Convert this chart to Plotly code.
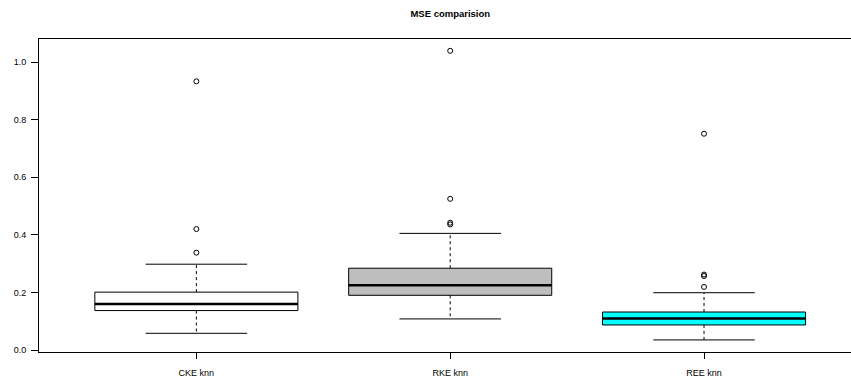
import plotly.graph_objects as go

categories = ["CKE knn", "RKE knn", "REE knn"]
positions = [1, 2, 3]
q1 = [0.137, 0.190, 0.087]
median = [0.160, 0.225, 0.109]
q3 = [0.201, 0.284, 0.132]
lower_whisker = [0.058, 0.108, 0.035]
upper_whisker = [0.298, 0.405, 0.199]
outliers = [
    [0.933, 0.420, 0.338],
    [1.039, 0.525, 0.442, 0.436],
    [0.751, 0.262, 0.257, 0.219],
]
fill_colors = ["#FFFFFF", "#BEBEBE", "#00FFFF"]
y_ticks = [0.0, 0.2, 0.4, 0.6, 0.8, 1.0]

fig = go.Figure()

for i, x in enumerate(positions):
    fig.add_trace(go.Bar(
        x=[x], base=[q1[i]], y=[q3[i] - q1[i]], width=0.8,
        marker=dict(color=fill_colors[i], line=dict(color="black", width=1)),
        showlegend=False, hoverinfo="skip",
    ))

for i, x in enumerate(positions):
    # dashed whiskers
    fig.add_trace(go.Scatter(
        x=[x, x, None, x, x],
        y=[q3[i], upper_whisker[i], None, q1[i], lower_whisker[i]],
        mode="lines", line=dict(color="black", width=1, dash="3px,3px"),
        showlegend=False, hoverinfo="skip",
    ))
    # staples
    fig.add_trace(go.Scatter(
        x=[x - 0.2, x + 0.2, None, x - 0.2, x + 0.2],
        y=[upper_whisker[i], upper_whisker[i], None, lower_whisker[i], lower_whisker[i]],
        mode="lines", line=dict(color="black", width=1),
        showlegend=False, hoverinfo="skip",
    ))
    # median
    fig.add_trace(go.Scatter(
        x=[x - 0.4, x + 0.4], y=[median[i], median[i]],
        mode="lines", line=dict(color="black", width=2.5),
        showlegend=False, hoverinfo="skip",
    ))
    # outliers
    fig.add_trace(go.Scatter(
        x=[x] * len(outliers[i]), y=outliers[i], mode="markers",
        marker=dict(symbol="circle-open", size=5, color="black", line=dict(width=1)),
        showlegend=False, hoverinfo="skip",
    ))

fig.update_layout(
    width=851, height=381,
    margin=dict(l=39, r=0, t=39, b=29),
    plot_bgcolor="white", paper_bgcolor="white",
    font=dict(family="Liberation Sans, Arial, sans-serif", size=9, color="black"),
    title=dict(text="<b>MSE comparision</b>", x=0.5065, xref="paper", xanchor="center",
               y=0.965, yref="container", yanchor="middle",
               font=dict(size=9.5, family="Liberation Sans, Arial, sans-serif", color="black")),
    xaxis=dict(range=[0.38, 3.579], tickvals=positions, ticktext=categories,
               showline=True, mirror=True, linecolor="black", linewidth=1,
               ticks="outside", ticklen=6, tickcolor="black", showgrid=False,
               ticklabelstandoff=6,
               zeroline=False, tickfont=dict(size=9, color="black"), automargin=False),
    yaxis=dict(range=[-0.0069, 1.080], tickvals=y_ticks,
               ticktext=[f"{v:.1f}" for v in y_ticks],
               showline=True, linecolor="black", linewidth=1,
               ticks="outside", ticklen=7, tickcolor="black", showgrid=False,
               ticklabelstandoff=3,
               zeroline=False, tickfont=dict(size=9, color="black"), automargin=False),
)

fig.write_html(
    "out.html",
    config={"displayModeBar": False},
    post_script="document.body.style.margin='0';document.body.style.overflow='hidden';",
)
